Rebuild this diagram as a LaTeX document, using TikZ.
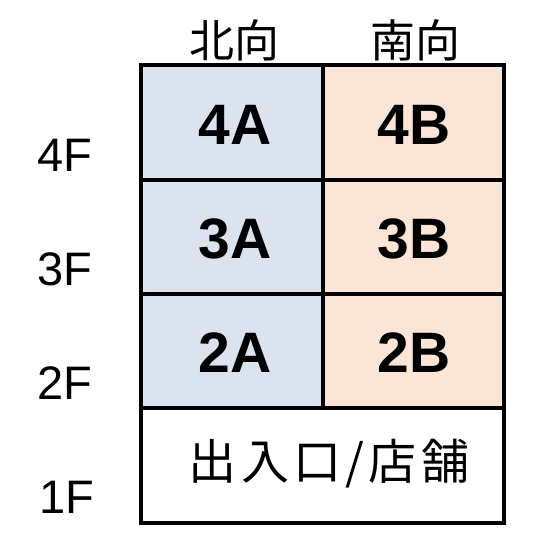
\documentclass[tikz,border=0pt]{standalone}
\usepackage{fontspec}
\setmainfont{Liberation Sans}
\newfontfamily\cjk{Noto Sans CJK JP}
\newfontfamily\cjkwide[LetterSpace=9]{Noto Sans CJK JP}
\newfontfamily\cellfont{Liberation Sans Bold}
\definecolor{northfill}{HTML}{DAE3EE}
\definecolor{southfill}{HTML}{FBE5D6}
\tikzset{
  cellbox/.style={draw=black, line width=3.5pt, inner sep=0pt},
  celltext/.style={font=\cellfont\fontsize{57}{57}\selectfont, inner sep=0pt},
  floortext/.style={font=\fontsize{47}{47}\selectfont, inner sep=0pt},
  headtext/.style={font=\cjk\fontsize{45}{45}\selectfont, inner sep=0pt},
  shoptext/.style={font=\cjkwide\fontsize{48}{48}\selectfont, inner sep=0pt},
}
\begin{document}
\begin{tikzpicture}[x=1pt,y=-1pt]
\useasboundingbox (0,0) rectangle (555,555);
\fill[white] (0,0) rectangle (555,555);
% cells
\path[cellbox, fill=northfill] (141,65) rectangle (323,180) node[pos=.5] (c4a) {};
\path[cellbox, fill=southfill] (323,65) rectangle (504,180) node[pos=.5] (c4b) {};
\path[cellbox, fill=northfill] (141,180) rectangle (323,294) node[pos=.5] (c3a) {};
\path[cellbox, fill=southfill] (323,180) rectangle (504,294) node[pos=.5] (c3b) {};
\path[cellbox, fill=northfill] (141,294) rectangle (323,408) node[pos=.5] (c2a) {};
\path[cellbox, fill=southfill] (323,294) rectangle (504,408) node[pos=.5] (c2b) {};
\path[cellbox, fill=white] (141,408) rectangle (504,523) node[pos=.5] (c1) {};
% cell texts
\node[celltext] (t4a) at (235,125) {4A};
\node[celltext] (t4b) at (414,125) {4B};
\node[celltext] (t3a) at (235,239) {3A};
\node[celltext] (t3b) at (414,239) {3B};
\node[celltext] (t2a) at (235,353) {2A};
\node[celltext] (t2b) at (414,353) {2B};
\node[shoptext] (t1) at (329,464) {出入口/店舗};
% headings
\node[headtext] (hn) at (234,40) {北向};
\node[headtext] (hs) at (415,40) {南向};
% floors
\node[floortext] (f4) at (65,155) {4F};
\node[floortext] (f3) at (65,269) {3F};
\node[floortext] (f2) at (65,383) {2F};
\node[floortext] (f1) at (67,497) {1F};
\end{tikzpicture}
\end{document}
